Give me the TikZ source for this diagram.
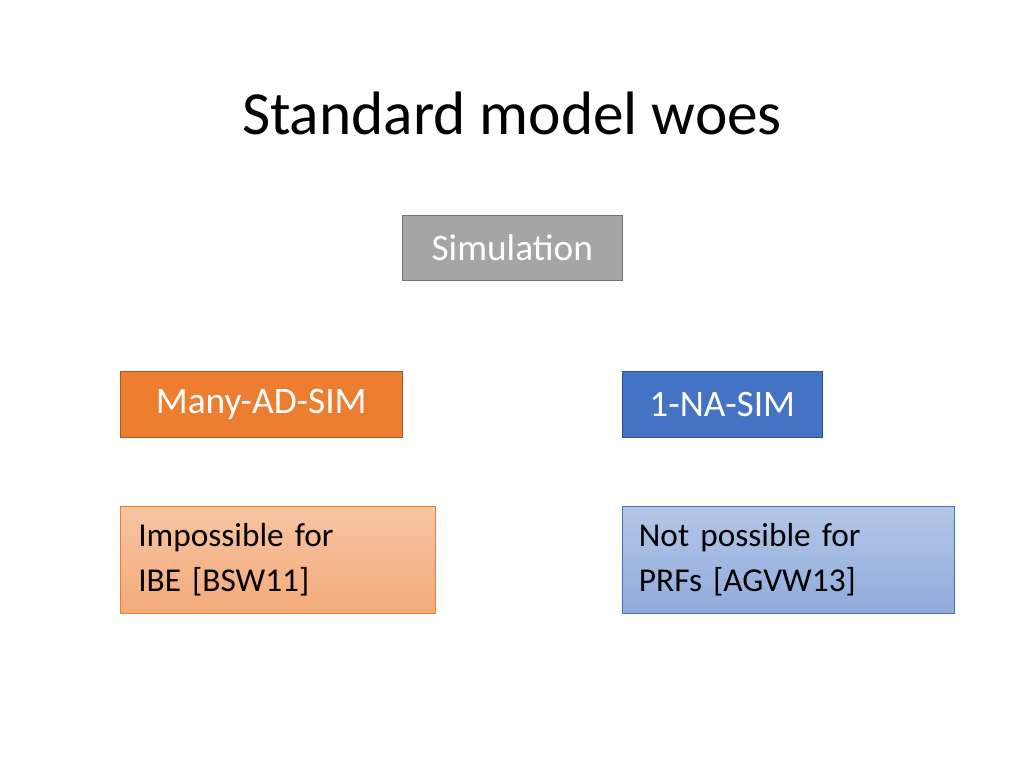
\documentclass[tikz,border=0pt]{standalone}
\usepackage{fontspec}
\setmainfont{Carlito}
\usetikzlibrary{positioning}
\definecolor{simgray}{HTML}{A5A5A5}
\definecolor{orange}{HTML}{ED7D31}
\definecolor{blue}{HTML}{4472C4}
\tikzstyle{box}=[draw, anchor=north west, inner sep=0pt, font=\fontsize{28}{34}\selectfont]
\tikzstyle{note}=[box, align=left, font=\fontsize{25}{34}\selectfont, text=black]
\begin{document}
\begin{tikzpicture}[x=0.75pt, y=-0.75pt]
    \useasboundingbox (0,0) rectangle (1024,768);
    \node (title) at (512,113) {\fontsize{46}{50}\selectfont Standard model woes};
    \node[box, fill=simgray, draw=simgray!70!black, text=white,
        minimum width=165pt, minimum height=48.75pt] (sim) at (402,215) {Simulation};
    \node[box, fill=orange, draw=orange!70!black, text=white,
        minimum width=211.5pt, minimum height=49.5pt] (many) at (120,371) {Many-AD-SIM};
    \node[box, fill=blue, draw=blue!70!black, text=white,
        minimum width=150pt, minimum height=49.5pt] (one) at (622,371) {1-NA-SIM};
    \node[note, top color=orange!45, bottom color=orange!65, draw=orange,
        minimum width=236pt, minimum height=80pt, text width=225pt] (imp) at (120,506)
        {\hspace*{8pt}Impossible for\\\hspace*{8pt}IBE [BSW11]};
    \node[note, top color=blue!40, bottom color=blue!60, draw=blue,
        minimum width=249pt, minimum height=80pt, text width=240pt] (notp) at (622,506)
        {\hspace*{8pt}Not possible for\\\hspace*{8pt}PRFs [AGVW13]};
\end{tikzpicture}
\end{document}
